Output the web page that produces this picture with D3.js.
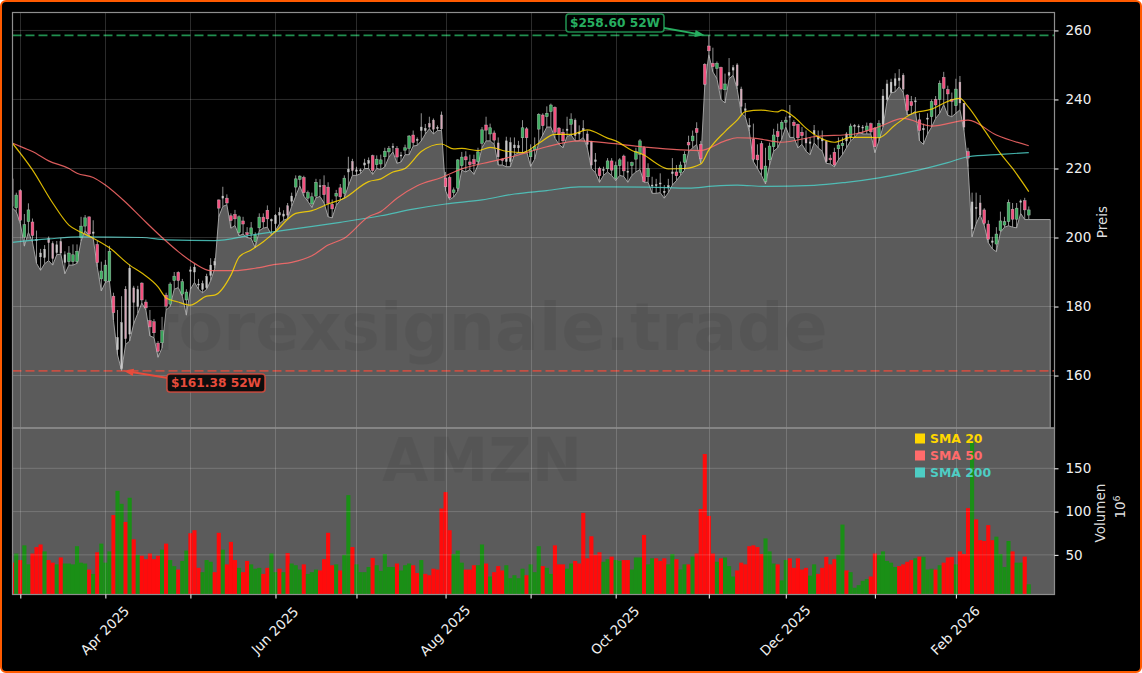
<!DOCTYPE html>
<html>
<head>
<meta charset="utf-8">
<script src="https://cdn.jsdelivr.net/npm/d3@7"></script>
<style>
  html, body { margin: 0; padding: 0; background: #fff; }
  svg { display: block; }
  text { font-family: "DejaVu Sans", sans-serif; }
</style>
</head>
<body>
<svg id="chart" width="1142" height="673"></svg>
<script>
// one row = 10 trading days, index 0 is 27 Feb 2025
var opens = [
  217,208.6,213.6,200.1,204.6,204.5,199.4,195.5,194.2,199.8,
  198.2,195.6,198.8,195,193,193,193,200,203.3,206,
  201.6,198,188,187.4,187.4,183,167.5,162,185,172,
  185.4,180,186.8,181.3,175.9,175.6,169.4,169.5,183.3,180.7,
  187.5,189.9,183.6,181.9,190.6,191.4,186.5,186.6,185.5,189,
  192,210.9,212,211.4,206.3,206.7,201.4,204.8,201.4,201,
  198.8,202.8,205.9,207.9,205.2,204,206.5,206.8,209.2,210.5,
  214.6,216.8,217.4,211.4,209.7,212,215,215.1,214.6,209.6,
  212,214.4,212.8,219,222,219.2,219.3,221,221.5,223.7,
  221.1,221.3,223.4,224.8,226.1,225.8,223.9,225.3,225.8,229.7,
  228.4,232,231,233,234,231.9,235.5,217.2,217.4,213,
  214.3,220.8,223.4,221.9,222.6,222,227.3,232.6,230,230.3,
  227.4,222.7,222,222,226,226,228.9,231.5,223.4,225.4,
  231.4,235.5,235,236.5,237.7,231.7,230.5,231.4,232.8,234,
  230.5,231,230,227.8,222,220,219.7,219.9,222.2,217.1,
  220.8,223.6,219.2,220.8,222.7,224.1,226,217.6,215.2,215.3,
  215.5,213,214.5,218.5,219,218.8,221.8,227.6,228,231.6,
  227,250.2,255.5,250.5,249,249.3,242.8,247,248.5,250,
  243,237.3,232.5,228.5,223.9,227.2,216.2,222.5,226.3,230.7,
  231.4,233.4,235.2,233.4,232.8,230.5,228.8,227.7,230,228.5,
  228,227.8,223,224.7,225.7,226.6,228,229.2,232.2,232,
  232,231,233,231.7,229,232.8,240,242,244,245.5,
  247,241.3,239.4,239.3,234.1,231.6,234.3,235,240,240,
  246.4,242.9,240,238.2,245,238.9,224.9,202.5,208.5,210,
  208,203.9,199,198.1,202,203.6,204.6,208.2,205.3,210.2,
  210.7,206.5
];
var highs = [
  218.7,213,214,206.8,209.9,205.5,202,196.7,197.8,200.3,
  198.9,199,199.9,196,197.5,198,198,206,206.5,206,
  205,199,193,193.5,197.6,184,179,183,185.9,192.2,
  186,186,187,182,179,176.4,170,177,184,187,
  190,190.2,188,185,191.6,192.3,188,187.5,189.5,194,
  194,211,214.7,212.5,207,208,206.4,206,203,204.5,
  201.5,207,207,209.3,205.5,206.8,208.7,207.9,210,213,
  218,218,217.9,213.6,213,217,216.9,218,216,211,
  213.8,215.5,218,223.4,222.8,220.5,220,222.8,223.2,224,
  223.8,224,226,226.5,227.3,226.5,224.8,226.9,229.7,231,
  229,236,232.9,235,234.5,232.5,236.5,219,218,214.5,
  222.7,224.8,225,224,224,226,232,235,233,231,
  229,223,229.2,229,229,228,234,232,227,229,
  236,236,238,238.8,238,232,231.5,235,236,234.5,
  232.5,234,231,228,224.5,220.5,220.5,223,223,222,
  223,224,222,222,226,228.5,226.5,221.5,217.6,217,
  218.6,215.2,217,223,221,222,225,229.5,231,233.4,
  228,250.5,258.6,255,251,249.5,247.5,252,250,250.5,
  243.7,239,234.6,233,227,228,226,227.5,231.5,233,
  234,235,238.4,234,233,232,231,229,232.6,231,
  231,228,224,226,229,229,230.5,233,232.9,232.8,
  232.6,233.3,233.3,232,234,243,245.7,246,247.6,248.8,
  247.6,241.5,241,240.7,236,233,236,240,241,245.5,
  248,244,242,246,246.8,238.9,226,213,213,212.3,
  208.5,205,200.2,203,207.5,206,211,210,210,211,
  211.5,209
];
var lows = [
  208.6,207.5,204,197.5,201.5,198.6,192.5,190.5,192.4,193.3,
  192,195,195.2,189.5,192,192,192.5,199,202,200.5,
  199.7,191.5,184.5,187,187.4,176,166,161.4,169,170,
  175,178,181,179,171.5,171,165.3,168,179,180,
  185,185.5,183,177.5,185,187,185,184,185,187.5,
  191,206,209,209.5,202.7,203.5,200.5,201,200,199.7,
  197,202,202.7,203,200.8,202,204,205,205.5,209,
  212,215,212,210.5,208.7,211.5,211.9,210,206,205.7,
  209.3,210.8,211.5,215,218,218,218.5,220,220,218.3,
  220,219.7,220.5,223.3,224.8,221.5,221.9,224,224,226.5,
  226.7,228,230,231.5,230,231,231,213.5,211,211.7,
  213.4,219.5,219,219.7,218.3,221,226,228,228,227,
  221,221,220.5,220.5,224,224.5,224.5,225,220.6,222.7,
  227.5,229.7,232,232,228.8,227,226,229.3,229.7,228,
  228,229,226,220,218.8,216,218,219,218,216.5,
  218,217.7,216,218,219,219.7,216,216,212.8,212.8,
  213,211.4,213,215.2,216.5,218,219.5,224.8,226,227,
  221.5,244,253,248,246,240,239,246,247,243,
  236,235,230.7,222,220,218,215.5,221,225,226,
  228.5,232,229,229,226,227,225,224,227.4,226,
  225,221.5,221.3,220.5,222.5,224,226,228,229,230.5,
  230,230,230,224.6,228,232,239.4,241.9,242.2,243.7,
  242,235.5,235.7,236.6,228,227,230,232,234.5,236,
  238.5,235.4,235,236,237,231,220.5,200.2,204,206.5,
  203.5,198.5,196.7,195.9,201.5,203,203.4,203,202.8,207,
  205.2,205.2
];
var closes = [
  209,212.3,205,203.7,208,200.6,199.2,194.4,196.6,198.5,
  193.9,197.9,195.5,192.8,195.5,195,196,203.3,205.7,201,
  201.2,192.7,190.3,192,196,178.2,171,175.3,170.7,191.1,
  181.2,184.9,181.9,179.6,174.1,172.4,167,173,180.1,186.5,
  188.8,187.5,187.2,184.2,190.2,190,186.3,185,188.7,192,
  193,208.5,211.4,210,204.9,205.4,206,203.9,200.8,202.8,
  200.7,205.9,204.5,205.4,204.8,206.4,207.2,206.2,206.5,212,
  217,217.8,213,213,211.8,216,214.7,212.4,209.9,208.3,
  212.8,211.8,217.2,219.8,219.4,219.6,219.6,221.6,222.3,219.4,
  222.7,222.5,225,225.8,226.4,223.3,223.7,226,229.4,227.5,
  228.2,231,231.6,232,231.4,231.6,231.5,214.7,211.5,213.8,
  222.5,223.3,222.5,221.1,221.3,224.8,231.2,231.1,231.8,228.2,
  223.4,222.3,228,227.5,226.8,226.6,231.8,228.9,225.4,226.3,
  235.7,232.4,236,238.4,230.5,229.9,228,231,234.3,229.5,
  230,231.6,227,221,222.5,217.9,219.4,222.2,219.5,220.8,
  222.5,219.3,219,221.7,225,228,216.2,220,215,215,
  215.8,213.4,215,219,217.9,221,224.1,226.8,229.4,230.4,
  222.8,244.4,254.1,249.5,250.5,243,244.5,247.8,249.2,244,
  238,236.8,232,222.7,222.5,219.8,220.7,226.5,229.7,229.2,
  233.4,234,234.8,232.4,228.9,229.5,227.4,227.3,231,229,
  228.6,222,222.5,221,226.8,227.3,230,232.3,232.5,232.3,
  231.8,232.3,230.6,226.3,233,241,244.5,245,246,246.2,
  243,236.8,238.2,239.6,231,231.2,234.6,239.4,238.4,244.7,
  243.2,241.6,239.4,243,239,232,223,210.3,208.7,206.5,
  204.1,199.5,198.6,201,204.8,204.6,210.2,205.3,208.5,210.6,
  208,208
];
// p = pink body, g = green body, w = washed out grey, q = washed out pink
var candleKinds = (
  "qgpggpwwwq" + "qwqwgggggp" + "wpgggpwwqw" + "qwpppppgpg" + "gpggwwwwww" +
  "wpwpppgppg" + "ggppwwwwqw" + "ggpgggwppp" + "gpgwqwwwwp" + "ggggwpwggp" +
  "wwwqqwqppg" + "ggpppggpgp" + "qpwwwwgpgg" + "gpggpppwgq" + "wwqqwpwgpg" +
  "gpwgggpgww" + "wwwwpggpgp" + "ppppgpgwwq" + "qwwpppgggp" + "ggwpppqwww" +
  "wqppggwgww" + "wgppgwwwww" + "qppwpwwgpg" + "pppgqqpwwq" + "ppwggggpgw" +
  "pg"
).split("");
var volumes = [
  41,51.5,44,61,39,51.5,59,62,54,44,
  41,39,47,40,40,39,60,41,40,33,
  28,53,63,41,54,96,124,109,88,116,
  68,50,49,45,51.5,45,49,56,63,44,
  37,33,43,55,75,78.5,35,30,44,42,
  30,75.5,56,39,65,44,35,30,43,39,
  34,35,28,35,51.5,30,34,30,52,40,
  38,33,39,28,30,33,32,45,75.5,38,
  39,32,50,119,59,39,30,30,36,46.5,
  38,31.5,51,36,36,40,32,38,40,38,
  29,44,28,26.5,34,33,103.5,122.5,78.5,51,
  55,41,33,33,38,38,62,40,25,30,
  37,32,38,23,26.5,23,34,26.5,39,30,
  60,37,35,28,61,39,39,34,40,43,
  40,98.5,46,71.5,50,53,42,45,48,44,
  43,44,44,33,47,47,73,39,46,46,
  43,46,39,51,45,33,39,39,48,51.5,
  103,166.5,95,51.5,42,46,47,37,25,32,
  41,39,60,61,59,51,69,54,40,39,
  20.5,44,46,35,46,33,35,26,39,28,
  35,47.7,39,45,50,85,32,30,12,15,
  20,22,25,51.5,50,54,43,41,36,37,
  39,42,44,46,48,47.7,33,34,33,38,
  41,47,47.7,39,54,51,104,181,91,67,
  66,84.4,67,71,51,36,66,54,41,41,
  48,16
];
var volumeColors = (
  "rgrggrrrgr" + "rgrggggggr" + "grgggrggrg" + "rgrrrrrgrg" + "grggrrrggg" +
  "rrgrrrgrrg" + "ggrrggrgrg" + "ggrgggrrrr" + "grggrggggr" + "gggggrgggr" +
  "rgrrrrrrrg" + "ggrrrggrgr" + "rrgggggrgg" + "grggrrrggr" + "rrrrrrggrg" +
  "grrgggrggr" + "rrggrggrgr" + "rrrrgrgggr" + "rrrrrrgggr" + "ggrrrrrggr" +
  "rrrrggrggg" + "ggrrgggggr" + "rrrgrgggrg" + "rrrgrrrgrr" + "rrrggggrgg" +
  "rg"
).split("");

var sma20Days = [0,5,10,14,17,20,24,29,32,36,38,41,44,48,50,54,56,59,62,65,70,74,78,82,88,91,94,97,101,106,109,111,115,118,122,126,130,134,138,142,147,149,153,156,159,162,166,170,172,176,179,181,185,189,190,193,196,199,203,207,212,214,218,222,227,232,234,236,240,244,247,251];
var sma20 = [227.4,219.6,210,203.6,201.5,199.8,197,192,189.7,185.7,182.5,181.3,180.4,183,183.3,189.1,194.3,196.4,198.8,201.7,207,207.8,209.7,211.4,216.2,217,219,220,224.9,227.1,225.7,225.8,225.2,226.1,225,224.6,227.3,229.9,229.9,231.2,228.8,228,225.2,223.9,221.5,219.9,220,221.3,225.4,230.7,234,236.5,236.9,236.4,236.9,235,231.7,229.2,227.6,229,229,228.9,232.6,235.8,237.2,239.9,240.3,237.9,231.2,224.4,220,213.3];
var sma50Days = [0,3,5,9,14,16,20,23,28,32,37,41,45,49,55,60,65,69,74,78,82,88,91,95,100,106,111,119,125,132,140,148,157,165,170,176,179,183,190,198,208,214,220,227,236,243,251];
var sma50 = [227.4,225.9,224.9,222.2,220,218.6,217.4,215.2,210.2,205.6,200,195.9,192.5,190.4,190.4,191.1,192.2,192.8,194.7,197.8,199.8,206,207.5,211.4,215,217.4,219.9,222.2,223.9,226.3,228,227.3,226.1,225.4,225.2,228,228.9,228.8,227.6,229.2,230,232.1,234.5,232.3,234,229.7,226.6];
var sma200Days = [0,9,17,32,38,50,59,71,81,91,99,107,116,124,132,140,157,167,173,179,186,198,206,214,224,231,236,244,251];
var sma200 = [198.6,199.6,200.2,200,199.3,199.1,200.7,202.7,204.4,206.3,208.2,209.7,210.9,212.6,213.6,214.7,214.6,214.3,214.9,215.2,214.8,215.1,216,217.3,219.6,221.7,223.4,224.1,224.6];

var monthDays = [2,23,44,65,85,107,128,149,172,191,213,233];
var monthLabels = ["","Apr 2025","","Jun 2025","","Aug 2025","","Oct 2025","","Dec 2025","","Feb 2026"];
var priceTicks = [160,180,200,220,240,260];
var volumeTicks = [50,100,150];
var high52 = 258.60;
var low52 = 161.38;
var areaEndDay = 256.3;  // grey area runs on flat past the last candle

var svg = d3.select("#chart");
var left = 12.5, right = 1054.5, top_ = 12.5, split = 428, bottom = 594.5;
var labelSize = 13.5;

var x = d3.scaleLinear().domain([0.07, 257.35]).range([left, right]);
var y = d3.scaleLinear().domain([144.8, 265.2]).range([split, top_]);
var yVol = d3.scaleLinear().domain([4.2, 196.6]).range([bottom, split]);

// frame
svg.append("rect").attr("x", 1).attr("y", 1).attr("width", 1140).attr("height", 671)
  .attr("rx", 5).attr("fill", "#000").attr("stroke", "#ff5a00").attr("stroke-width", 2);

var defs = svg.append("defs");
defs.append("clipPath").attr("id", "clipMain").append("rect")
  .attr("x", left).attr("y", top_).attr("width", right - left).attr("height", split - top_);
defs.append("clipPath").attr("id", "clipVol").append("rect")
  .attr("x", left).attr("y", split).attr("width", right - left).attr("height", bottom - split);

// volume panel background, same grey as the area
svg.append("rect").attr("x", left).attr("y", split).attr("width", right - left)
  .attr("height", bottom - split).attr("fill", "#5b5b5b");

var main = svg.append("g").attr("clip-path", "url(#clipMain)");
var vol = svg.append("g").attr("clip-path", "url(#clipVol)");

var areaData = lows.map(function(d, i) { return [i, d]; });
areaData.push([areaEndDay, lows[lows.length - 1]]);

main.append("path").datum(areaData)
  .attr("fill", "#5b5b5b")
  .attr("d", d3.area().x(function(d) { return x(d[0]); }).y0(split).y1(function(d) { return y(d[1]); }));
main.append("path")
  .datum(areaData.concat([[areaEndDay, y.domain()[0]]]))
  .attr("fill", "none").attr("stroke", "#a0a0a0").attr("stroke-width", 1)
  .attr("d", d3.line().x(function(d) { return x(d[0]); }).y(function(d) { return y(d[1]); }));

// grid
var grid = svg.append("g").attr("stroke", "#fff").attr("stroke-opacity", 0.17).attr("stroke-width", 1);
grid.selectAll("line.gx").data(monthDays).enter().append("line")
  .attr("x1", function(d) { return Math.round(x(d)) + 0.5; })
  .attr("x2", function(d) { return Math.round(x(d)) + 0.5; })
  .attr("y1", top_).attr("y2", bottom);
grid.selectAll("line.gy").data(priceTicks).enter().append("line")
  .attr("x1", left).attr("x2", right)
  .attr("y1", function(d) { return y(d); }).attr("y2", function(d) { return y(d); });
grid.selectAll("line.gv").data(volumeTicks).enter().append("line")
  .attr("x1", left).attr("x2", right)
  .attr("y1", function(d) { return yVol(d); }).attr("y2", function(d) { return yVol(d); });

// watermarks
svg.append("text").text("forexsignale.trade")
  .attr("x", 489).attr("y", 350).attr("text-anchor", "middle")
  .attr("font-size", 65).attr("font-weight", "bold").attr("fill", "#000").attr("fill-opacity", 0.06);
svg.append("text").text("AMZN")
  .attr("x", 482).attr("y", 481).attr("text-anchor", "middle")
  .attr("font-size", 60).attr("font-weight", "bold").attr("fill", "#000").attr("fill-opacity", 0.06);

// 52 week lines
main.append("line").attr("x1", left).attr("x2", right).attr("y1", y(high52)).attr("y2", y(high52))
  .attr("stroke", "#2ecc71").attr("stroke-opacity", 0.7).attr("stroke-width", 1.7).attr("stroke-dasharray", "9,4");
main.append("line").attr("x1", left).attr("x2", right).attr("y1", y(low52)).attr("y2", y(low52))
  .attr("stroke", "#e74c3c").attr("stroke-opacity", 0.75).attr("stroke-width", 1.7).attr("stroke-dasharray", "9,4");

// volume
vol.selectAll("rect.bar").data(volumes).enter().append("rect")
  .attr("x", function(d, i) { return x(i) - 2.05; })
  .attr("width", 4.1)
  .attr("y", function(d) { return yVol(d); })
  .attr("height", function(d) { return bottom - yVol(d); })
  .attr("fill", function(d, i) { return volumeColors[i] === "r" ? "#ff0b0b" : "#1a8f16"; });

// candles
var kindFill = { p: "#f4507f", g: "#3fae62", w: "#c8c8c8", q: "#d9a7b8" };
function isPale(i) { return candleKinds[i] === "w" || candleKinds[i] === "q"; }
var candles = main.selectAll("g.candle").data(opens).enter().append("g");
candles.append("line")
  .attr("x1", function(d, i) { return x(i); }).attr("x2", function(d, i) { return x(i); })
  .attr("y1", function(d, i) { return y(highs[i]); }).attr("y2", function(d, i) { return y(lows[i]); })
  .attr("stroke", "#b4b4b4").attr("stroke-width", 0.8);
candles.append("rect")
  .attr("x", function(d, i) { return x(i) - (isPale(i) ? 0.9 : 1.4); })
  .attr("width", function(d, i) { return isPale(i) ? 1.8 : 2.8; })
  .attr("y", function(d, i) { return y(Math.max(d, closes[i])); })
  .attr("height", function(d, i) { return Math.max(1, Math.abs(y(d) - y(closes[i]))); })
  .attr("fill", function(d, i) { return kindFill[candleKinds[i]]; })
  .attr("stroke", "#d0d0d0").attr("stroke-opacity", 0.7).attr("stroke-width", 0.5);

// moving averages
function drawSma(days, values, color) {
  main.append("path").datum(values)
    .attr("fill", "none").attr("stroke", color).attr("stroke-width", 1.2).attr("stroke-opacity", 0.85)
    .attr("d", d3.line()
      .x(function(d, i) { return x(days[i]); })
      .y(function(d) { return y(d); })
      .curve(d3.curveMonotoneX));
}
drawSma(sma200Days, sma200, "#4ecdc4");
drawSma(sma50Days, sma50, "#ff6b6b");
drawSma(sma20Days, sma20, "#ffd700");

// spines
svg.append("rect").attr("x", left).attr("y", top_).attr("width", right - left).attr("height", split - top_)
  .attr("fill", "none").attr("stroke", "#8e8e8e").attr("stroke-width", 1.2);
svg.append("rect").attr("x", left).attr("y", split).attr("width", right - left).attr("height", bottom - split)
  .attr("fill", "none").attr("stroke", "#8e8e8e").attr("stroke-width", 1.2);

// axes
function styleAxis(g) {
  g.select(".domain").remove();
  g.selectAll(".tick line").attr("stroke", "#fff");
  g.selectAll(".tick text").attr("fill", "#f0f0f0")
    .attr("font-family", "DejaVu Sans").attr("font-size", labelSize);
}
svg.append("g").attr("transform", "translate(" + right + ",0)")
  .call(d3.axisRight(y).tickValues(priceTicks).tickSize(4).tickPadding(7))
  .call(styleAxis);
svg.append("g").attr("transform", "translate(" + right + ",0)")
  .call(d3.axisRight(yVol).tickValues(volumeTicks).tickSize(4).tickPadding(7))
  .call(styleAxis);
svg.append("g").attr("transform", "translate(0," + bottom + ")")
  .call(d3.axisBottom(x).tickValues(monthDays).tickSize(4).tickFormat(""))
  .call(styleAxis);

// month labels sit at 45 degrees around their centre
svg.append("g").selectAll("text").data(monthDays).enter().append("text")
  .text(function(d, i) { return monthLabels[i]; })
  .attr("text-anchor", "middle").attr("dominant-baseline", "middle")
  .attr("font-size", labelSize).attr("fill", "#f0f0f0")
  .attr("transform", function(d) { return "translate(" + x(d) + ",631) rotate(-45)"; });

// axis titles
svg.append("text").text("Preis").attr("text-anchor", "middle")
  .attr("transform", "translate(1107,222) rotate(-90)")
  .attr("font-size", labelSize).attr("fill", "#dedede");
svg.append("text").text("Volumen").attr("text-anchor", "middle")
  .attr("transform", "translate(1105,513) rotate(-90)")
  .attr("font-size", labelSize).attr("fill", "#dedede");
var exp = svg.append("text").attr("text-anchor", "middle")
  .attr("transform", "translate(1125,507) rotate(-90)")
  .attr("font-size", labelSize).attr("fill", "#dedede");
exp.append("tspan").text("10");
exp.append("tspan").text("6").attr("font-size", 9.5).attr("dy", -5);

// 52 week labels
function note(label, color, boxX, boxY, fromX, fromY, tipX, tipY) {
  var a = Math.atan2(tipY - fromY, tipX - fromX);
  svg.append("line").attr("x1", fromX).attr("y1", fromY)
    .attr("x2", tipX - 8 * Math.cos(a)).attr("y2", tipY - 8 * Math.sin(a))
    .attr("stroke", color).attr("stroke-width", 2);
  var px = -Math.sin(a) * 3.6, py = Math.cos(a) * 3.6;
  svg.append("path")
    .attr("d", "M" + tipX + "," + tipY +
      "L" + (tipX - 10 * Math.cos(a) + px) + "," + (tipY - 10 * Math.sin(a) + py) +
      "L" + (tipX - 10 * Math.cos(a) - px) + "," + (tipY - 10 * Math.sin(a) - py) + "Z")
    .attr("fill", color);
  svg.append("rect").attr("x", boxX).attr("y", boxY).attr("width", 98).attr("height", 18).attr("rx", 3)
    .attr("fill", "#000").attr("fill-opacity", 0.85)
    .attr("stroke", color).attr("stroke-opacity", 0.8).attr("stroke-width", 1.6);
  svg.append("text").text(label).attr("x", boxX + 49).attr("y", boxY + 13.2)
    .attr("text-anchor", "middle").attr("font-size", 12.2).attr("font-weight", "bold").attr("fill", color);
}
note("$" + high52.toFixed(2) + " 52W", "#27ae60", 566, 14, 664, 28, x(172) - 4, y(high52));
note("$" + low52.toFixed(2) + " 52W", "#e74c3c", 167, 374, 168, 378, x(27) + 2, y(low52));

// legend
var legendNames = ["SMA 20", "SMA 50", "SMA 200"];
var legendColors = ["#ffd700", "#ff6b6b", "#4ecdc4"];
var legend = svg.append("g").selectAll("g").data(legendNames).enter().append("g")
  .attr("transform", function(d, i) { return "translate(915," + (433.5 + i * 17) + ")"; });
legend.append("rect").attr("width", 10).attr("height", 10)
  .attr("fill", function(d, i) { return legendColors[i]; });
legend.append("text").text(function(d) { return d; })
  .attr("x", 15).attr("y", 9).attr("font-size", 12.4).attr("font-weight", "bold")
  .attr("fill", function(d, i) { return legendColors[i]; });
</script>
</body>
</html>
